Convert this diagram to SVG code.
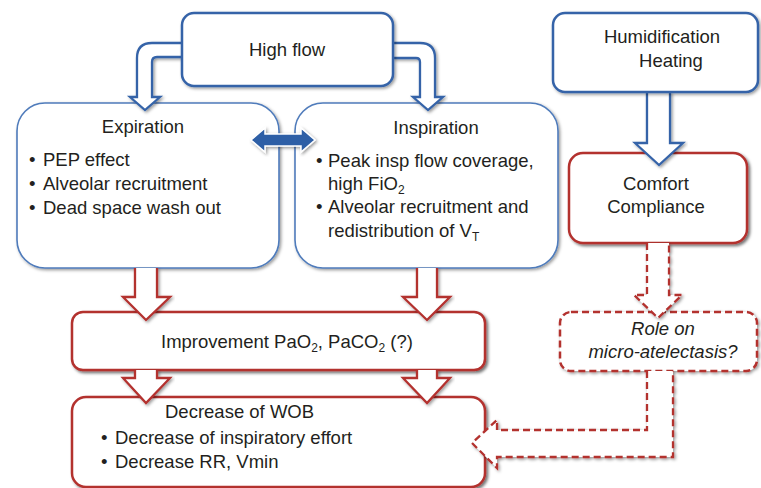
<svg xmlns="http://www.w3.org/2000/svg" width="761" height="488" viewBox="0 0 761 488">
<defs>
<filter id="sh" x="-10%" y="-10%" width="120%" height="130%">
<feDropShadow dx="1.5" dy="1.5" stdDeviation="1.5" flood-color="#000" flood-opacity="0.4"/>
</filter>
<filter id="sh2" x="-10%" y="-10%" width="120%" height="130%">
<feDropShadow dx="2" dy="2" stdDeviation="1.8" flood-color="#000" flood-opacity="0.55"/>
</filter>
</defs>
<style>
text{font-family:"Liberation Sans",Arial,Helvetica,sans-serif;font-size:18.5px;fill:#231f20}
.c{text-anchor:middle}
.it{font-style:italic}
.sub{font-size:12px}
.bb{fill:#fff;stroke:#3563a8;stroke-width:2.5}
.lb{fill:#fff;stroke:#4f7bbb;stroke-width:1.6}
.rb{fill:#fff;stroke:#b3302e;stroke-width:2.5}
.rd{fill:#fff;stroke:#b3302e;stroke-width:2.5;stroke-dasharray:7 4}
.ba{fill:#fff;stroke:#3563a8;stroke-width:2.3;stroke-linejoin:miter}
.ra{fill:#fff;stroke:#b3302e;stroke-width:2.3;stroke-linejoin:miter}
.da{fill:#fff;stroke:#b3302e;stroke-width:2.3;stroke-dasharray:7 4}
</style>

<g id="expiration" filter="url(#sh)">
<rect class="lb" x="17" y="103" width="262" height="165" rx="28"/>
</g>
<g id="inspiration" filter="url(#sh)">
<rect class="lb" x="295" y="103" width="263" height="165" rx="28"/>
</g>
<g id="comfort" filter="url(#sh2)">
<rect class="rb" x="569" y="153" width="178" height="90" rx="14"/>
</g>
<g id="improvement" filter="url(#sh2)">
<rect class="rb" x="72" y="312" width="413" height="58" rx="11"/>
</g>
<g id="decrease" filter="url(#sh2)">
<rect class="rb" x="72" y="397" width="413" height="90" rx="14"/>
</g>
<g id="role" filter="url(#sh)">
<rect class="rd" x="560" y="312" width="197" height="59" rx="11"/>
</g>

<g id="connectors">
<path class="ba" filter="url(#sh)" d="M182 43 L152 43 Q137 43 137 58 L137 97 L130 97 L145 110 L160 97 L152 97 L152 62 Q152 57 157 57 L182 57"/>
<path class="ba" filter="url(#sh)" d="M393 43 L420 43 Q435 43 435 58 L435 97 L443 97 L428 110 L413 97 L420 97 L420 62 Q420 58 416 58 L393 58"/>
<path class="ba" filter="url(#sh)" d="M647 92 L647 143 L635 143 L659 165 L683 143 L670 143 L670 92"/>
<path filter="url(#sh)" fill="#2f5fa6" stroke="#fff" stroke-width="1.5" d="M251 140 L265 128 L265 134 L301 134 L301 128 L315 140 L301 152 L301 146 L265 146 L265 152 Z"/>
<path class="ra" filter="url(#sh)" d="M135 268 L135 297 L123 297 L146 320 L170 297 L157 297 L157 268"/>
<path class="ra" filter="url(#sh)" d="M417 268 L417 297 L403 297 L427 320 L450 297 L437 297 L437 268"/>
<path class="ra" filter="url(#sh)" d="M135 370 L135 378 L123 378 L146 403 L170 378 L157 378 L157 370"/>
<path class="ra" filter="url(#sh)" d="M417 370 L417 378 L403 378 L427 403 L450 378 L437 378 L437 370"/>
<path class="da" filter="url(#sh)" d="M647 243 L647 295 L634 295 L658 318 L682 295 L669 295 L669 243"/>
<path class="da" filter="url(#sh)" d="M647 371 L647 430 L497 430 L497 420 L472 443 L497 468 L497 457 L673 457 L673 371"/>
</g>

<g id="highflow" filter="url(#sh)">
<rect class="bb" x="182" y="13" width="211" height="73" rx="12"/>
</g>
<g id="humidification" filter="url(#sh)">
<rect class="bb" x="553" y="13" width="205" height="79" rx="12"/>
</g>

<g id="labels">
<text class="c" x="287" y="56">High flow</text>
<text class="c" x="662" y="43">Humidification</text>
<text class="c" x="671" y="67">Heating</text>
<text class="c" x="143" y="133">Expiration</text>
<text x="29" y="166">•</text><text x="43" y="166">PEP effect</text>
<text x="29" y="190">•</text><text x="43" y="190">Alveolar recruitment</text>
<text x="29" y="214">•</text><text x="43" y="214">Dead space wash out</text>
<text class="c" x="436" y="134">Inspiration</text>
<text x="316" y="167">•</text><text x="328" y="167">Peak insp flow coverage,</text>
<text x="328" y="190">high FiO<tspan class="sub" dy="4">2</tspan></text>
<text x="316" y="213">•</text><text x="328" y="213">Alveolar recruitment and</text>
<text x="328" y="237">redistribution of V<tspan class="sub" dy="4">T</tspan></text>
<text class="c" x="656" y="190">Comfort</text>
<text class="c" x="656" y="213">Compliance</text>
<text x="161" y="348">Improvement PaO<tspan class="sub" dy="4">2</tspan><tspan dy="-4">, PaCO</tspan><tspan class="sub" dy="4">2</tspan><tspan dy="-4"> (?)</tspan></text>
<text class="it c" x="663" y="335">Role on</text>
<text class="it c" x="663" y="358">micro-atelectasis?</text>
<text x="165" y="418">Decrease of WOB</text>
<text x="101" y="444">•</text><text x="115" y="444">Decrease of inspiratory effort</text>
<text x="101" y="468">•</text><text x="115" y="468">Decrease RR, Vmin</text>
</g>
</svg>
